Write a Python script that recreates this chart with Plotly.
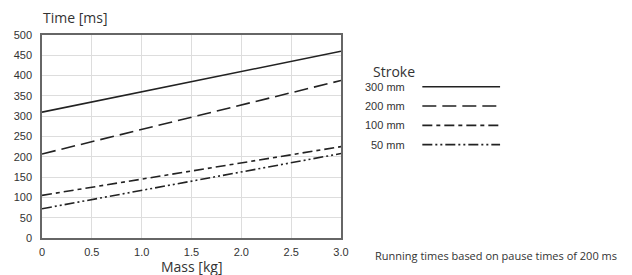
import plotly.graph_objects as go

mass = [0.0, 3.0]
strokes = ["300 mm", "200 mm", "100 mm", "50 mm"]
time_300 = [310, 460]
time_200 = [207, 388]
time_100 = [105, 225]
time_50 = [72, 208]
series = [time_300, time_200, time_100, time_50]
dashes = ["solid", "14px,6px", "10px,4px,4px,4px", "10px,3px,2px,3px,2px,3px"]
x_ticks = [0, 0.5, 1.0, 1.5, 2.0, 2.5, 3.0]
x_ticklabels = ["0", "0.5", "1.0", "1.5", "2.0", "2.5", "3.0"]
y_ticks = list(range(0, 501, 50))

fig = go.Figure()
for name, vals, d in zip(strokes, series, dashes):
    fig.add_trace(go.Scatter(x=mass, y=vals, mode="lines", name=name,
                             line=dict(color="#222222", width=1.6, dash=d),
                             showlegend=False))

tickfont = dict(family="Liberation Sans Narrow, Arial Narrow, sans-serif", size=11, color="#333333")
fig.update_layout(
    width=624, height=267,
    margin=dict(l=34, r=291, t=27, b=37),
    paper_bgcolor="white", plot_bgcolor="white",
    xaxis=dict(range=[0, 3], tickvals=x_ticks, ticktext=x_ticklabels,
               showgrid=True, gridcolor="#dddddd", gridwidth=1,
               showline=True, linecolor="#666666", linewidth=1.5, mirror=True,
               zeroline=False, tickfont=tickfont, ticks="", ticklen=0,
               ticklabelstandoff=3, automargin=False),
    yaxis=dict(range=[0, 500], tickvals=y_ticks,
               showgrid=True, gridcolor="#dddddd", gridwidth=1,
               showline=True, linecolor="#666666", linewidth=1.5, mirror=True,
               zeroline=False, tickfont=tickfont, ticks="", ticklen=0,
               ticklabelstandoff=6, automargin=False),
    font=dict(family="Open Sans, sans-serif", color="#333333"),
)

fig.add_annotation(text="Time [ms]", xref="paper", yref="paper", x=-0.005, y=1.088,
                   xanchor="left", yanchor="middle", showarrow=False,
                   font=dict(size=14, color="#333333"))
fig.add_annotation(text="Mass [kg]", xref="paper", yref="paper", x=0.5, y=-0.14,
                   xanchor="center", yanchor="middle", showarrow=False,
                   font=dict(size=14, color="#333333"))

# legend (drawn manually)
fig.add_annotation(text="Stroke", xref="paper", yref="paper", x=1.1, y=0.82,
                   xanchor="left", yanchor="middle", showarrow=False,
                   font=dict(size=14, color="#333333"))
leg_y = [0.745, 0.65, 0.555, 0.46]
for name, d, ly in zip(strokes, dashes, leg_y):
    fig.add_annotation(text=name, xref="paper", yref="paper", x=1.22, y=ly,
                       xanchor="right", yanchor="middle", showarrow=False,
                       font=dict(size=11, color="#333333",
                                 family="Liberation Sans Narrow, Arial Narrow, sans-serif"))
    fig.add_shape(type="line", xref="paper", yref="paper", x0=1.272, x1=1.532,
                  y0=ly, y1=ly, line=dict(color="#222222", width=1.6, dash=d))

fig.add_annotation(text="Running times based on pause times of 200 ms", xref="paper", yref="paper",
                   x=1.107, y=-0.085, xanchor="left", yanchor="middle", showarrow=False,
                   font=dict(size=11, color="#333333"))

fig.write_html("out.html")
